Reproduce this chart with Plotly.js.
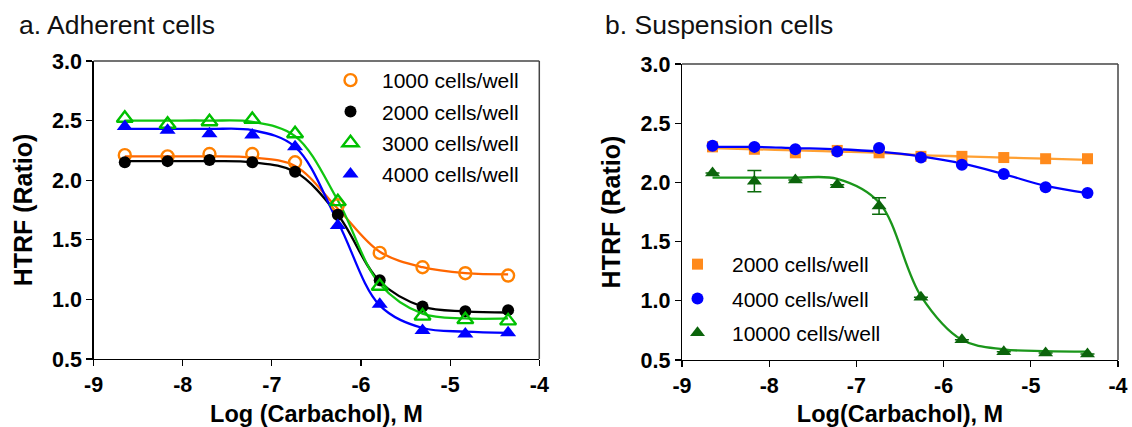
<!DOCTYPE html>
<html>
<head>
<meta charset="utf-8">
<script src="https://cdn.plot.ly/plotly-3.0.1.min.js"></script>
<style>html,body{margin:0;padding:0;background:#fff;}#chart{width:1132px;height:427px;}</style>
</head>
<body>
<div id="chart"></div>
<script>
// log concentration of carbachol (M)
const logConc = [-8.65, -8.17, -7.70, -7.22, -6.74, -6.26, -5.79, -5.31, -4.83, -4.35];

// a. Adherent cells - measured points
const adh1000 = [2.21, 2.20, 2.22, 2.22, 2.15, 1.79, 1.39, 1.27, 1.22, 1.20];
const adh2000 = [2.15, 2.16, 2.17, 2.15, 2.07, 1.71, 1.16, 0.94, 0.90, 0.91];
const adh3000 = [2.52, 2.47, 2.49, 2.51, 2.39, 1.82, 1.11, 0.86, 0.83, 0.82];
const adh4000 = [2.45, 2.42, 2.39, 2.38, 2.28, 1.62, 0.96, 0.74, 0.71, 0.72];
// a. fitted curves
const adhFit1000 = [2.20, 2.20, 2.20, 2.19, 2.12, 1.76, 1.40, 1.27, 1.22, 1.21];
const adhFit2000 = [2.16, 2.16, 2.16, 2.15, 2.07, 1.71, 1.15, 0.94, 0.90, 0.89];
const adhFit3000 = [2.50, 2.50, 2.50, 2.49, 2.37, 1.83, 1.13, 0.88, 0.84, 0.84];
const adhFit4000 = [2.43, 2.43, 2.43, 2.42, 2.28, 1.65, 0.95, 0.76, 0.73, 0.72];

// b. Suspension cells - measured points
const sus2000 = [2.30, 2.28, 2.25, 2.27, 2.25, 2.22, 2.22, 2.21, 2.20, 2.20];
const sus4000 = [2.31, 2.30, 2.28, 2.26, 2.29, 2.21, 2.15, 2.07, 1.96, 1.91];
const sus10000 = [2.08, 2.01, 2.02, 1.98, 1.80, 1.03, 0.67, 0.57, 0.56, 0.55];
const sus10000Err = [0, 0.09, 0, 0, 0.07, 0, 0, 0, 0, 0];
// b. fitted curves
const susFit2000 = [2.29, 2.28, 2.27, 2.26, 2.25, 2.23, 2.22, 2.21, 2.20, 2.19];
const susFit4000 = [2.30, 2.30, 2.29, 2.28, 2.26, 2.22, 2.16, 2.07, 1.97, 1.91];
const susFit10000 = [2.04, 2.04, 2.04, 2.03, 1.83, 1.04, 0.67, 0.59, 0.575, 0.57];

const xTickVals = [-9, -8, -7, -6, -5, -4];
const xTickText = ['-9', '-8', '-7', '-6', '-5', '-4'];
const yTickVals = [0.5, 1.0, 1.5, 2.0, 2.5, 3.0];
const yTickText = ['0.5', '1.0', '1.5', '2.0', '2.5', '3.0'];

const FONT = 'Arial, "Liberation Sans", sans-serif';

function fit(y, color, xa, ya) {
  return {x: logConc, y: y, mode: 'lines', type: 'scatter', xaxis: xa, yaxis: ya,
    line: {color: color, width: 2.3, shape: 'spline', smoothing: 1}, showlegend: false, hoverinfo: 'skip'};
}
function pts(y, name, marker, xa, ya, legend, err) {
  const t = {x: logConc, y: y, mode: 'markers', type: 'scatter', name: name, xaxis: xa, yaxis: ya,
    marker: marker, legend: legend, legendgroup: name};
  if (err) t.error_y = {type: 'data', array: err, visible: true, color: '#0b6b0b', thickness: 1.5, width: 7};
  return t;
}

const data = [
  fit(adhFit1000, '#ff6600', 'x', 'y'),
  fit(adhFit2000, '#000000', 'x', 'y'),
  fit(adhFit3000, '#11c611', 'x', 'y'),
  fit(adhFit4000, '#0000ff', 'x', 'y'),
  pts(adh1000, '1000 cells/well', {symbol: 'circle-open', size: 12, color: '#ff8000', line: {width: 2.4, color: '#ff8000'}}, 'x', 'y', 'legend'),
  pts(adh2000, '2000 cells/well', {symbol: 'circle', size: 12, color: '#000000'}, 'x', 'y', 'legend'),
  pts(adh3000, '3000 cells/well', {symbol: 'triangle-up-open', size: 14, color: '#00c000', line: {width: 2.4, color: '#00c000'}}, 'x', 'y', 'legend'),
  pts(adh4000, '4000 cells/well', {symbol: 'triangle-up', size: 14, color: '#0000ff'}, 'x', 'y', 'legend'),

  fit(susFit2000, '#ffa033', 'x2', 'y2'),
  fit(susFit4000, '#0000ff', 'x2', 'y2'),
  fit(susFit10000, '#1a961a', 'x2', 'y2'),
  pts(sus2000, '2000 cells/well ', {symbol: 'square', size: 11, color: '#ff8a1c'}, 'x2', 'y2', 'legend2'),
  pts(sus4000, '4000 cells/well ', {symbol: 'circle', size: 12, color: '#0000ff'}, 'x2', 'y2', 'legend2'),
  pts(sus10000, '10000 cells/well', {symbol: 'triangle-up', size: 13, color: '#0b640b'}, 'x2', 'y2', 'legend2', sus10000Err)
];

const W = 1132, H = 427;
const L0 = 93.6, L1 = 539.3, R0 = 682, R1 = 1118;
function axX(domain) {
  return {domain: domain, range: [-9, -4], tickvals: xTickVals, ticktext: xTickText,
    ticks: 'outside', ticklen: 6, tickwidth: 1.2, tickcolor: '#000', showline: true, linecolor: '#000', linewidth: 1.3,
    mirror: false, showgrid: false, zeroline: false, ticklabeloverflow: 'allow',
    tickfont: {family: FONT, size: 21.5, color: '#000', weight: 'bold'}};
}
function axY(domain) {
  return {domain: domain, range: [0.5, 3.0], tickvals: yTickVals, ticktext: yTickText,
    ticks: 'outside', ticklen: 6, tickwidth: 1.2, tickcolor: '#000', showline: true, linecolor: '#000', linewidth: 1.3,
    showgrid: false, zeroline: false,
    tickfont: {family: FONT, size: 21.5, color: '#000', weight: 'bold'}};
}
const xa1 = axX([L0 / W, L1 / W]);
xa1.anchor = 'y';
xa1.title = {text: 'Log (Carbachol), M', font: {family: FONT, size: 23.5, color: '#000', weight: 'bold'}, standoff: 10};
const ya1 = axY([1 - 359 / H, 1 - 61 / H]);
ya1.anchor = 'x';
ya1.title = {text: 'HTRF (Ratio)', font: {family: FONT, size: 25, color: '#000', weight: 'bold'}, standoff: 12};
const xa2 = axX([R0 / W, R1 / W]);
xa2.anchor = 'y2';
xa2.title = {text: 'Log(Carbachol), M', font: {family: FONT, size: 23.5, color: '#000', weight: 'bold'}, standoff: 10};
const ya2 = axY([1 - 360 / H, 1 - 64 / H]);
ya2.anchor = 'x2';
ya2.title = {text: 'HTRF (Ratio)', font: {family: FONT, size: 25, color: '#000', weight: 'bold'}, standoff: 12};

function frame(x0, x1, y0, y1) {
  return [
    {type: 'line', xref: 'paper', yref: 'paper', x0: x0, x1: x1, y0: y1, y1: y1, line: {color: '#444', width: 1.5}},
    {type: 'line', xref: 'paper', yref: 'paper', x0: x1, x1: x1, y0: y0, y1: y1, line: {color: '#444', width: 1.5}}
  ];
}

const layout = {
  width: W, height: H,
  margin: {l: 0, r: 0, t: 0, b: 0},
  paper_bgcolor: '#fff', plot_bgcolor: '#fff',
  font: {family: FONT, color: '#000'},
  xaxis: xa1, yaxis: ya1, xaxis2: xa2, yaxis2: ya2,
  legend: {x: 319 / W, xanchor: 'left', y: 1 - 60 / H, yanchor: 'top', bgcolor: 'rgba(0,0,0,0)',
    font: {family: FONT, size: 21, color: '#000'}, itemwidth: 53, tracegroupgap: 1, borderwidth: 0},
  legend2: {x: 663 / W, xanchor: 'left', y: 1 - 244 / H, yanchor: 'top', bgcolor: 'rgba(0,0,0,0)',
    font: {family: FONT, size: 21, color: '#000'}, itemwidth: 59, tracegroupgap: 4, borderwidth: 0},
  shapes: frame(L0 / W, L1 / W, 1 - 359 / H, 1 - 61 / H).concat(frame(R0 / W, R1 / W, 1 - 360 / H, 1 - 64 / H)),
  annotations: [
    {text: 'a. Adherent cells', xref: 'paper', yref: 'paper', x: 17 / W, y: 1 - 25 / H, xanchor: 'left', yanchor: 'middle',
      showarrow: false, font: {family: FONT, size: 26.5, color: '#111'}},
    {text: 'b. Suspension cells', xref: 'paper', yref: 'paper', x: 603 / W, y: 1 - 25 / H, xanchor: 'left', yanchor: 'middle',
      showarrow: false, font: {family: FONT, size: 26.5, color: '#111'}}
  ]
};

Plotly.newPlot('chart', data, layout, {displayModeBar: false, staticPlot: true});
</script>
</body>
</html>
